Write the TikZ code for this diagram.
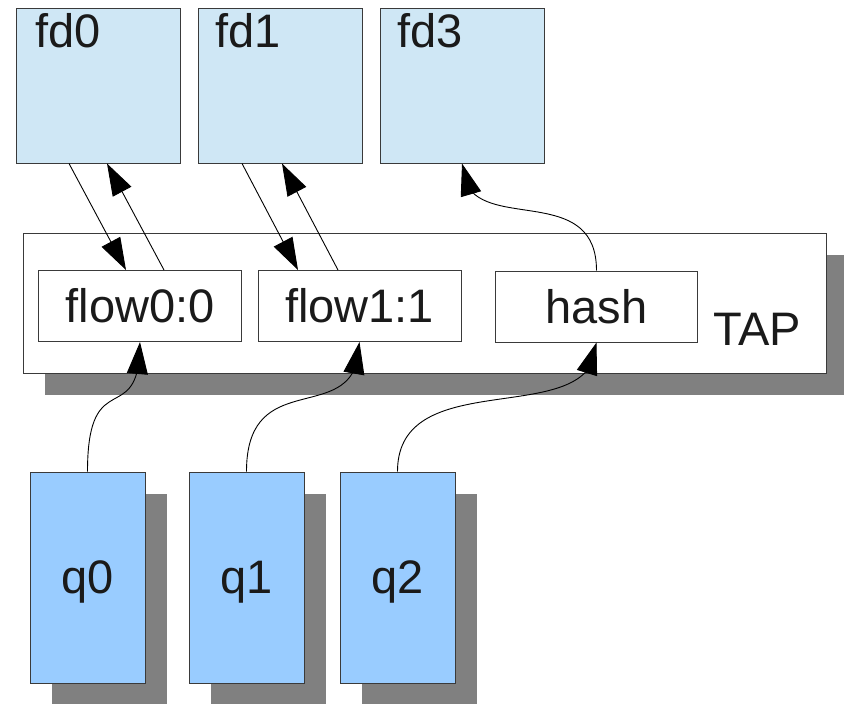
\documentclass[tikz,border=0pt]{standalone}
\usepackage{fontspec}
\setmainfont{Liberation Sans}
\usetikzlibrary{arrows.meta,bending,shadows}

\definecolor{fdfill}{HTML}{CFE7F5}
\definecolor{qfill}{HTML}{99CCFF}
\definecolor{shade}{HTML}{808080}
\definecolor{ink}{HTML}{1A1A1A}
\definecolor{edge}{HTML}{3A3A3A}

\begin{document}
\begin{tikzpicture}[x=1pt,y=-1pt,
  bigfont/.style={font=\fontsize{47}{56}\selectfont, text=ink},
  box/.style={draw=edge, line width=1pt, rectangle, inner sep=0pt, bigfont},
  castshadow/.style={drop shadow={shadow xshift=22pt, shadow yshift=-22pt, fill=shade, opacity=1}},
  fdbox/.style={box, fill=fdfill, minimum width=164pt, minimum height=155pt},
  flowbox/.style={box, fill=white, minimum width=203pt, minimum height=71pt},
  tapbox/.style={box, fill=white, minimum width=803pt, minimum height=140pt, castshadow},
  qbox/.style={box, fill=qfill, minimum width=115pt, minimum height=211pt, text depth=0pt, castshadow},
  caption/.style={bigfont, inner sep=0pt, anchor=base west},
  conn/.style={draw=black, line width=0.9pt, -{Triangle[length=32pt, width=21pt]}}]

\useasboundingbox (0,0) rectangle (844,704);

% file descriptors
\node[fdbox] (fd0) at (98,85.5) {};
\node[fdbox] (fd1) at (280,85.5) {};
\node[fdbox] (fd3) at (462,85.5) {};
\node[caption] (fd0label) at (35,47.5) {fd0};
\node[caption] (fd1label) at (215,47.5) {fd1};
\node[caption] (fd3label) at (397,47.5) {fd3};

% tap device with its flows
\node[tapbox] (tap) at (424.5,303) {};
\node[caption] (taplabel) at (713,345) {TAP};
\node[flowbox] (flow0) at (140,306) {flow0:0};
\node[flowbox] (flow1) at (359.5,306) {flow1:1};
\node[flowbox, minimum width=202pt] (hash) at (596.5,306.5) {hash};

% queues
\node[qbox] (q0) at (87.5,577.5) {q0};
\node[qbox] (q1) at (246.5,577.5) {q1};
\node[qbox] (q2) at (397.5,577.5) {q2};

% fd <-> flow links
\draw[conn] ([xshift=-29pt]fd0.south) -- ([xshift=-14pt]flow0.north);
\draw[conn] ([xshift=24pt]flow0.north) -- ([xshift=9pt]fd0.south);
\draw[conn] ([xshift=-38pt]fd1.south) -- ([xshift=-61.5pt]flow1.north);
\draw[conn] ([xshift=-21.5pt]flow1.north) -- ([xshift=2pt]fd1.south);
\draw[conn] (hash.north) .. controls +(0,-95) and +(0,78) .. (fd3.south);

% queue -> flow links
\draw[conn] (q0.north) .. controls +(0,-110) and +(0,90) .. (flow0.south);
\draw[conn] (q1.north) .. controls +(0,-110) and +(0,90) .. (flow1.south);
\draw[conn] (q2.north) .. controls +(0,-110) and +(0,90) .. (hash.south);
\end{tikzpicture}
\end{document}
